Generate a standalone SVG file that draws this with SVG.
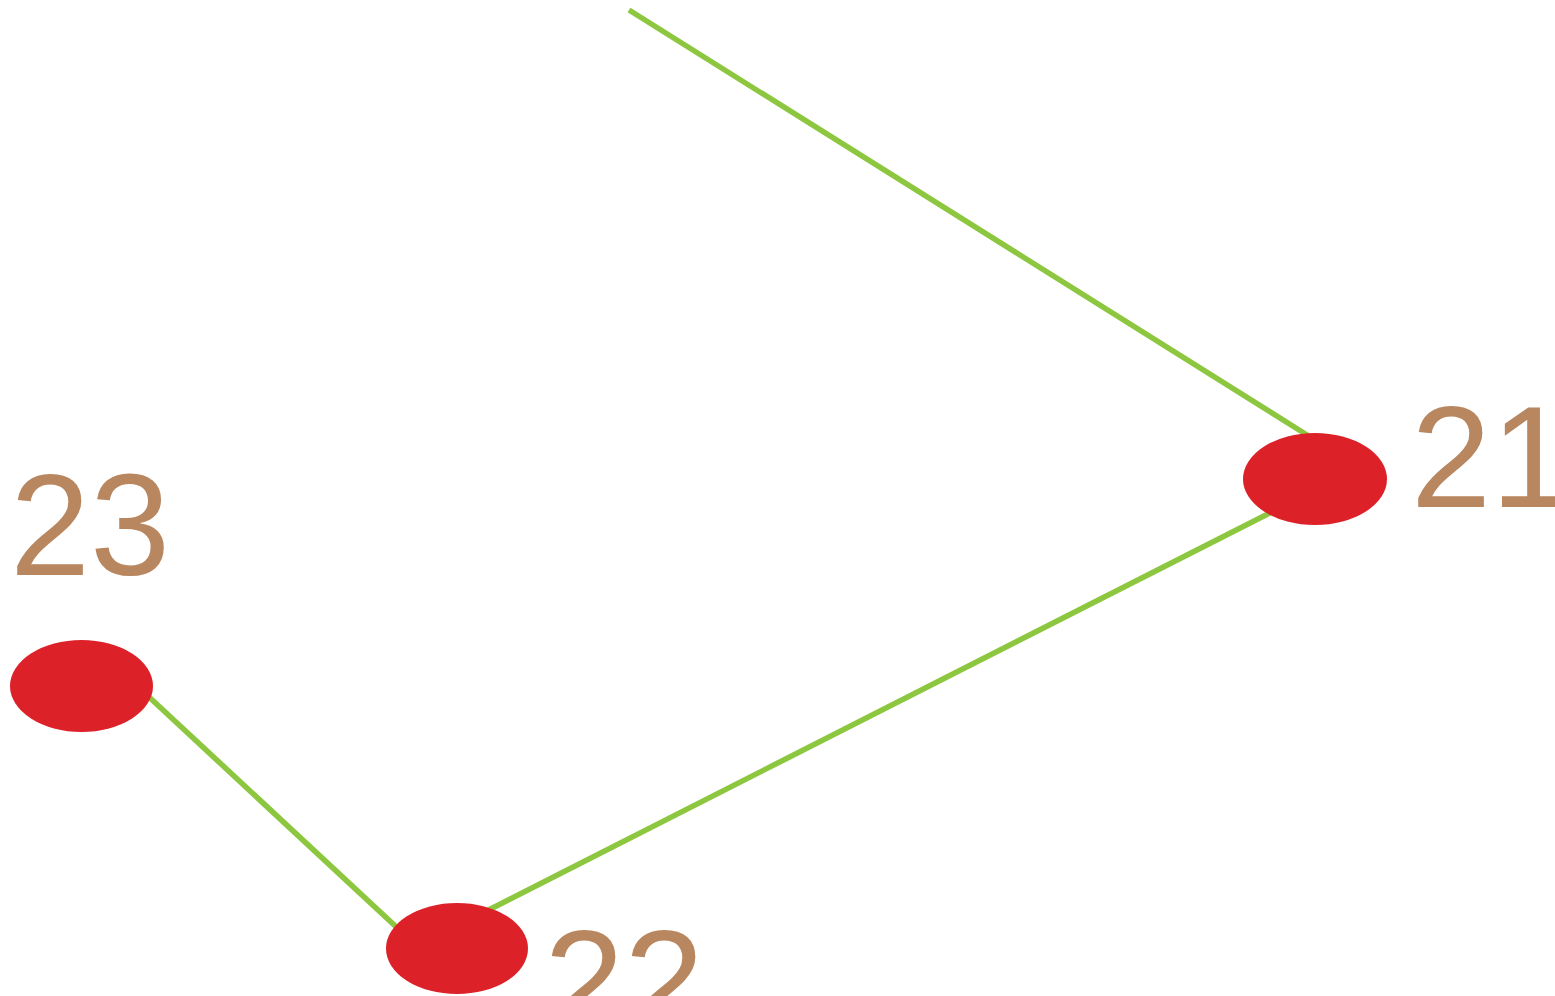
<svg xmlns="http://www.w3.org/2000/svg" width="1555" height="996" viewBox="0 0 1555 996">
<style>
.edge{stroke:#8DC63F;stroke-width:5.5;fill:none}
.node{fill:#DC2128}
.lbl{fill:#B8865F;font-family:"Liberation Sans",Arial,sans-serif;font-size:144px}
</style>
<rect width="1555" height="996" fill="#FFFFFF"/>
<g id="connectors">
<line class="edge" x1="629" y1="10" x2="1315" y2="440"/>
<line class="edge" x1="1315" y1="490" x2="457" y2="926"/>
<line class="edge" x1="120" y1="670" x2="420" y2="949"/>
</g>
<g id="node21">
<ellipse class="node" cx="1315" cy="479" rx="72" ry="46"/>
<text class="lbl" x="1411" y="507">21</text>
</g>
<g id="node23">
<ellipse class="node" cx="81.5" cy="686" rx="71.5" ry="46"/>
<text class="lbl" x="10" y="575">23</text>
</g>
<g id="node22">
<ellipse class="node" cx="457" cy="948.5" rx="71" ry="45.5"/>
<text class="lbl" x="544" y="1031">22</text>
</g>
</svg>
